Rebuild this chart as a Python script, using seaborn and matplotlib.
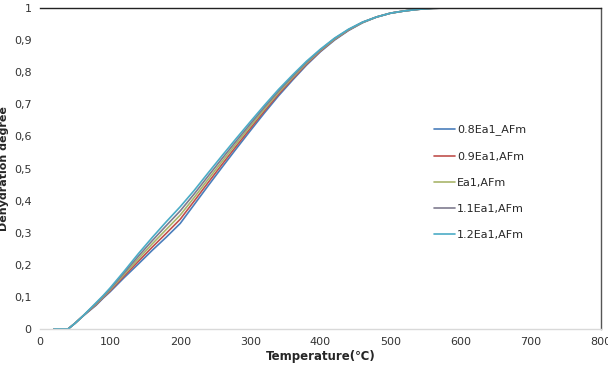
import numpy as np
import pandas as pd
import matplotlib
matplotlib.use("Agg")
import matplotlib.pyplot as plt
import seaborn as sns

temps = [20, 30, 40, 50, 60, 70, 80, 90, 100, 120, 140, 160, 180, 200, 220, 240, 260, 280,
         300, 320, 340, 360, 380, 400, 420, 440, 460, 480, 500, 520, 540, 560, 580, 600,
         650, 700, 750, 800]

s_08 = [0, 0, 0, 0.018, 0.038, 0.056, 0.074, 0.096, 0.116, 0.160, 0.202, 0.245, 0.286, 0.329,
        0.388, 0.447, 0.505, 0.562, 0.618, 0.673, 0.726, 0.775, 0.822, 0.864, 0.900, 0.930,
        0.954, 0.972, 0.984, 0.991, 0.996, 0.999, 1, 1, 1, 1, 1, 1]
s_09 = [0, 0, 0, 0.018, 0.038, 0.057, 0.076, 0.098, 0.119, 0.165, 0.210, 0.255, 0.298, 0.342,
        0.399, 0.457, 0.514, 0.570, 0.625, 0.679, 0.731, 0.779, 0.825, 0.866, 0.902, 0.931,
        0.955, 0.972, 0.984, 0.991, 0.996, 0.999, 1, 1, 1, 1, 1, 1]
s_10 = [0, 0, 0, 0.018, 0.038, 0.058, 0.078, 0.100, 0.122, 0.170, 0.218, 0.265, 0.310, 0.355,
        0.410, 0.467, 0.523, 0.578, 0.632, 0.685, 0.736, 0.783, 0.828, 0.868, 0.903, 0.932,
        0.955, 0.972, 0.984, 0.991, 0.996, 0.999, 1, 1, 1, 1, 1, 1]
s_11 = [0, 0, 0, 0.018, 0.038, 0.059, 0.080, 0.102, 0.125, 0.175, 0.226, 0.275, 0.322, 0.368,
        0.421, 0.477, 0.532, 0.586, 0.639, 0.691, 0.741, 0.787, 0.831, 0.870, 0.905, 0.933,
        0.956, 0.972, 0.984, 0.991, 0.996, 0.999, 1, 1, 1, 1, 1, 1]
s_12 = [0, 0, 0, 0.018, 0.038, 0.060, 0.082, 0.104, 0.128, 0.180, 0.234, 0.285, 0.334, 0.381,
        0.432, 0.487, 0.541, 0.594, 0.646, 0.697, 0.746, 0.791, 0.834, 0.872, 0.906, 0.934,
        0.956, 0.972, 0.984, 0.991, 0.996, 0.999, 1, 1, 1, 1, 1, 1]

series_names = ["0.8Ea1_AFm", "0.9Ea1,AFm", "Ea1,AFm", "1.1Ea1,AFm", "1.2Ea1,AFm"]
series_values = [s_08, s_09, s_10, s_11, s_12]
colors = ["#4A7EBB", "#C0504D", "#A9B56B", "#7F7B8F", "#4BACC6"]

x_ticks = [0, 100, 200, 300, 400, 500, 600, 700, 800]
y_ticks = [0, 0.1, 0.2, 0.3, 0.4, 0.5, 0.6, 0.7, 0.8, 0.9, 1]
y_tick_labels = ["0", "0,1", "0,2", "0,3", "0,4", "0,5", "0,6", "0,7", "0,8", "0,9", "1"]

frames = []
for name, vals in zip(series_names, series_values):
    frames.append(pd.DataFrame({"Temperature": temps, "Degree": vals, "Series": name}))
df = pd.concat(frames, ignore_index=True)

sns.set_style("white")
plt.rcParams["font.family"] = ["DejaVu Sans"]

fig = plt.figure(figsize=(6.08, 3.67), dpi=100)
ax = fig.add_axes([40 / 608, 1 - 329 / 367, 561 / 608, 321 / 367])

sns.lineplot(data=df, x="Temperature", y="Degree", hue="Series",
             hue_order=series_names, palette=colors, linewidth=1.2, ax=ax,
             estimator=None, sort=False)

ax.set_xlim(0, 800)
ax.set_ylim(0, 1)
ax.set_xticks(x_ticks)
ax.set_xticklabels([str(t) for t in x_ticks])
ax.set_yticks(y_ticks)
ax.set_yticklabels(y_tick_labels)
ax.tick_params(axis="both", length=0, labelsize=8, colors="#333333", pad=6)

ax.spines["left"].set_visible(False)
ax.spines["bottom"].set_color("#D9D9D9")
ax.spines["bottom"].set_linewidth(1.0)
ax.spines["top"].set_color("#222222")
ax.spines["top"].set_linewidth(1.0)
ax.spines["right"].set_color("#555555")
ax.spines["right"].set_linewidth(1.0)

ax.set_xlabel("Temperature(℃)", fontsize=8.5, fontweight="bold", labelpad=2)
ax.set_ylabel("Dehydration degree", fontsize=8, fontweight="bold")
ax.yaxis.set_label_coords(-0.056, 0.5)

leg = ax.legend(loc="upper left", bbox_to_anchor=(0.685, 0.668), frameon=False,
                fontsize=8, labelspacing=1.45, handlelength=1.9, handletextpad=0.15)
for line in leg.get_lines():
    line.set_linewidth(1.2)

fig.savefig("out.png", dpi=100)
